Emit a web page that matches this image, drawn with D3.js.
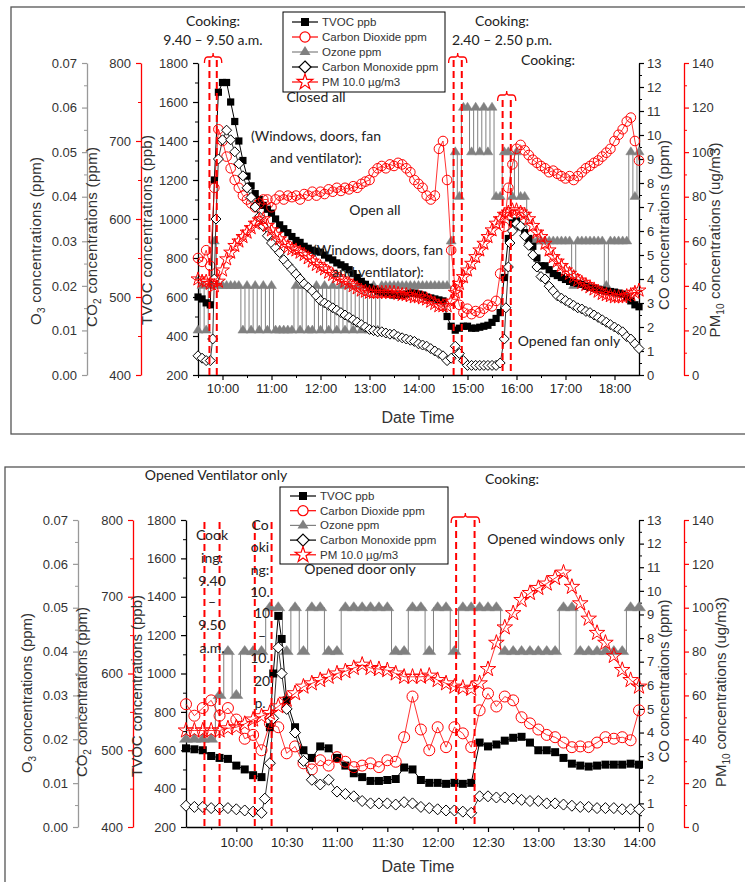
<!DOCTYPE html>
<html><head><meta charset="utf-8">
<script src="https://cdn.jsdelivr.net/npm/d3@7"></script>
<style>body{margin:0;background:#fff}svg{display:block}</style>
</head><body>
<svg id="c" width="745" height="882"></svg>
<script>
// ================= DATA =================
// Panel 1 (9:30 – 18:30, every 5 min)
const p1Start = "9:30", p1End = "18:30", p1Step = 5;
const tvoc1 = [
 600,590,570,560,1200,1650,1700,1700,1600,1500,1400,1300,
 1220,1170,1130,1100,1070,1050,1030,1000,970,950,930,910,
 890,880,860,850,840,835,830,815,800,790,775,765,
 755,740,720,700,680,665,650,640,630,625,620,615,
 610,610,610,615,620,620,615,610,600,595,590,585,
 580,500,450,430,440,450,450,440,440,445,450,455,
 470,490,520,700,900,980,990,960,930,900,860,800,
 760,760,740,720,710,700,690,680,675,670,665,655,
 650,645,640,635,630,628,625,620,615,600,580,560,
 550];
const co2_1 = [
 550,545,560,540,640,715,700,680,665,650,640,630,
 625,620,615,620,625,625,615,625,630,625,630,628,
 630,625,632,630,635,630,635,632,638,635,640,636,
 640,638,642,640,645,648,650,660,665,668,665,670,
 668,672,670,665,660,650,645,640,630,625,630,690,
 700,650,560,510,490,480,485,478,482,480,485,490,
 488,495,530,590,640,670,690,695,688,682,676,672,
 668,665,660,662,658,655,652,655,650,655,660,665,
 668,672,675,680,685,690,700,708,715,725,730,700,
 675];
const o3_1 = [
 .01,.02,.01,.02,.03,.02,.02,.02,.02,.02,.02,.01,
 .02,.01,.02,.01,.02,.01,.02,.01,.01,.01,.01,.01,
 .02,.01,.02,.01,.01,.02,.01,.02,.01,.02,.01,.02,
 .01,.02,.01,.02,.01,.02,.01,.02,.01,.02,.02,.02,
 .02,.02,.02,.02,.02,.02,.02,.02,.02,.02,.02,.02,
 .02,.02,.03,.05,.04,.06,.06,.05,.06,.05,.06,.05,
 .06,.04,.04,.05,.05,.04,.05,.04,.04,.03,.03,.03,
 .03,.03,.03,.03,.03,.03,.03,.03,.02,.03,.03,.03,
 .03,.03,.03,.03,.02,.03,.03,.03,.03,.03,.05,.04,
 .05];
const co1 = [
 0.8,0.7,0.6,0.6,4.0,9.0,9.8,10.2,9.8,9.3,8.8,8.3,
 7.8,7.4,7.0,6.6,6.2,5.8,5.5,5.3,5.1,4.8,4.6,4.4,
 4.2,4.0,3.8,3.65,3.5,3.3,3.1,3.0,2.9,2.8,2.7,2.6,
 2.5,2.4,2.3,2.2,2.1,2.0,1.9,1.85,1.8,1.8,1.75,1.7,
 1.7,1.6,1.55,1.5,1.45,1.4,1.3,1.25,1.2,1.1,1.0,0.9,
 0.8,0.6,0.7,1.2,0.9,0.6,0.4,0.4,0.4,0.4,0.4,0.4,
 0.4,0.4,0.5,1.5,4.5,6.0,6.3,6.2,5.8,5.4,5.0,4.5,
 4.1,4.0,3.7,3.5,3.3,3.2,3.1,3.0,2.9,2.8,2.75,2.65,
 2.6,2.5,2.4,2.3,2.2,2.1,2.0,1.9,1.8,1.6,1.5,1.3,
 1.1];
const co1Extra = [["9:48",1.5],["9:52",6.5],["15:47",2.8],["15:52",5.5]];
const pm1 = [
 43,42,42,41,40,42,47,52,55,58,60,62,
 64,66,68,69.5,70,67,65,63,61,59,57.5,56.5,
 56,55,54,52.5,51,49.5,48.5,47.5,46,45,44,43,
 42,41,40,39,38,37.5,37,37,37,37,37,37,
 37,36.5,36,36,35.5,35,35,34.5,34,33,32,31,
 31,31,33,37,41,44,47,50,53,56,59,62,
 65,68,70,72,73,74,74,73,72,70,67,64,
 62,59,56,53,51,49,47,45.5,44,42.5,41.5,40.5,
 39.5,38.5,37.5,36.5,36,35.5,35,35,35,35.5,36,37,
 38];
const xTicks1 = ["10:00","11:00","12:00","13:00","14:00","15:00","16:00","17:00","18:00"];
const cook1 = ["9:44","9:53","14:43","14:53","15:43","15:53"];

// Panel 2 (9:30 – 14:00, every 5 min)
const p2Start = "9:30", p2End = "14:00", p2Step = 5;
const tvoc2 = [
 610,605,600,570,560,555,
 520,500,470,460,720,1300,
 860,720,600,560,620,610,
 560,520,480,460,440,440,
 445,450,510,500,445,430,
 430,425,430,425,430,640,
 620,630,650,665,670,640,
 600,600,590,560,530,520,
 515,520,525,525,525,530,
 525];
const tvoc2Extra = [["10:22",1000],["10:27",1180]];
const co2_2 = [
 560,545,555,565,545,555,
 540,515,520,500,535,530,
 496,505,483,475,487,480,
 491,485,478,480,483,478,
 487,485,517,570,527,500,
 530,504,530,522,504,552,
 574,557,570,565,543,535,
 527,520,517,510,504,505,
 504,510,517,515,517,513,
 552];
const o3_2 = [
 .02,.02,.02,.02,.03,.04,
 .03,.04,.04,.04,.05,.05,
 .04,.05,.04,.05,.05,.04,
 .04,.05,.05,.05,.05,.05,
 .05,.04,.04,.05,.05,.04,
 .05,.05,.04,.05,.05,.05,
 .05,.05,.04,.04,.04,.04,
 .04,.04,.04,.05,.05,.04,
 .04,.04,.04,.04,.04,.05,
 .05];
const co_2 = [
 0.9,0.85,0.85,0.8,0.8,0.8,
 0.75,0.7,0.65,0.6,2.7,7.6,
 5.0,4.0,2.8,2.0,1.8,2.0,
 1.5,1.4,1.3,1.1,1.0,1.0,
 1.0,0.95,1.05,1.0,0.85,0.8,
 0.75,0.7,0.7,0.65,0.6,1.3,
 1.3,1.25,1.25,1.2,1.15,1.1,
 1.1,1.0,1.0,0.95,0.9,0.85,
 0.85,0.8,0.8,0.8,0.75,0.75,
 0.75];
const co2Extra = [["10:17",1.2],["10:22",4.6],["10:27",6.5]];
const pm2 = [
 44,44,44,44,44,45,
 45.5,47,49,50.5,52,55,
 58,61,64,65.5,67,68.5,
 70,71,72.5,74,72.5,72,
 71.5,70,68.5,68.5,68.5,69,
 67,65.5,64,63.5,63,65.5,
 72,84,91,97.5,103.5,106.7,
 109,111,113.5,116,109.5,102,
 95,88.5,84,78,71.6,67,
 64];
const xTicks2 = ["10:00","10:30","11:00","11:30","12:00","12:30","13:00","13:30","14:00"];
const cook2 = ["9:41","9:50","10:11","10:21","12:11","12:22"];

// axis ticks
const o3Ticks = [0,0.01,0.02,0.03,0.04,0.05,0.06,0.07];
const co2Ticks = [400,500,600,700,800];
const tvocTicks = [200,400,600,800,1000,1200,1400,1600,1800];
const coTicks = [0,1,2,3,4,5,6,7,8,9,10,11,12,13];
const pmTicks = [0,20,40,60,80,100,120,140];
const legendLabels = ["TVOC ppb","Carbon Dioxide ppm","Ozone ppm","Carbon Monoxide ppm","PM 10.0 \u00b5g/m3"];

// ================= DRAW =================
const svg = d3.select("#c");
const AX = "'Liberation Sans', Arial, sans-serif";
const AN = "Lato, 'Open Sans', sans-serif";
const RED = "#ff0000", GRAY = "#808080", TXT = "#333";

function mins(s){const [h,m]=s.split(":").map(Number);return h*60+m;}
function series(start, step, vals, extra){
  const t0 = mins(start);
  const pts = vals.map((v,i)=>({t:t0+step*i, v}));
  (extra||[]).forEach(([t,v])=>pts.push({t:mins(t), v}));
  pts.sort((a,b)=>a.t-b.t);
  return pts;
}
function mid(a){return a.map((v,i)=>i<a.length-1?(v+a[i+1])/2:null).filter(v=>v!==null);}

svg.append("rect").attr("x",11).attr("y",7).attr("width",760).attr("height",427)
  .attr("fill","none").attr("stroke","#555").attr("stroke-width",1.3);
svg.append("rect").attr("x",5).attr("y",467).attr("width",770).attr("height",440)
  .attr("fill","none").attr("stroke","#555").attr("stroke-width",1.3);

const diamondPath = s => `M0,${-s}L${s},0L0,${s}L${-s},0Z`;
const triPath = (w,h) => `M${-w/2},${h/3}L${w/2},${h/3}L0,${-2*h/3}Z`;

function styleAxis(a, color, fs){
  a.select(".domain").attr("stroke", color).attr("stroke-width",1.3);
  a.selectAll(".tick line").attr("stroke", color).attr("stroke-width",1.2);
  a.selectAll("text").attr("fill", TXT).attr("font-family", AX).attr("font-size", fs||13);
}

function rotTitle(g, x, y, parts, len){
  const t = g.append("text").attr("transform",`translate(${x},${y}) rotate(-90)`)
    .attr("text-anchor","middle").attr("font-family",AX).attr("font-size",15).attr("fill",TXT);
  parts.forEach(p=>{
    const s = t.append("tspan").text(p[0]);
    if(p[1]==="sub") s.attr("font-size",10).attr("dy",4);
    if(p[1]==="up") s.attr("dy",-4);
  });
  if(len) t.attr("textLength",len).attr("lengthAdjust","spacing");
}

function drawPanel(c){
  const g = svg.append("g");
  const x = d3.scaleLinear().domain([mins(c.start), mins(c.end)]).range([c.x0, c.x1]);
  const yT = d3.scaleLinear().domain([200,1800]).range([c.yb,c.yt]);
  const yC2 = d3.scaleLinear().domain([400,800]).range([c.yb,c.yt]);
  const yO = d3.scaleLinear().domain([0,0.07]).range([c.yb,c.yt]);
  const yCO = d3.scaleLinear().domain([0,13]).range([c.yb,c.yt]);
  const yPM = d3.scaleLinear().domain([0,140]).range([c.yb,c.yt]);

  const leftAx = (scale, ax, ticks, color, fmt) => {
    const a = g.append("g").attr("transform",`translate(${ax},0)`)
      .call(d3.axisLeft(scale).tickValues(ticks).tickSize(5).tickSizeOuter(0).tickPadding(5).tickFormat(fmt));
    styleAxis(a, color);
    const m = g.append("g").attr("transform",`translate(${ax},0)`)
      .call(d3.axisLeft(scale).tickValues(mid(ticks)).tickSize(3).tickFormat(""));
    m.select(".domain").remove(); m.selectAll("line").attr("stroke",color);
  };
  const rightAx = (scale, ax, ticks, color) => {
    const a = g.append("g").attr("transform",`translate(${ax},0)`)
      .call(d3.axisRight(scale).tickValues(ticks).tickSize(5).tickSizeOuter(0).tickPadding(3));
    styleAxis(a, color);
    const m = g.append("g").attr("transform",`translate(${ax},0)`)
      .call(d3.axisRight(scale).tickValues(mid(ticks)).tickSize(3).tickFormat(""));
    m.select(".domain").remove(); m.selectAll("line").attr("stroke",color);
  };
  leftAx(yO, c.o3X, o3Ticks, "#999", d3.format(".2f"));
  leftAx(yC2, c.co2X, co2Ticks, RED, d3.format("d"));
  leftAx(yT, c.x0, tvocTicks, "#000", d3.format("d"));
  rightAx(yCO, c.x1, coTicks, "#000");
  rightAx(yPM, c.pmX, pmTicks, RED);

  const xt = c.xTicks.map(mins);
  const xa = g.append("g").attr("transform",`translate(0,${c.yb})`)
    .call(d3.axisBottom(x).tickValues(xt).tickSize(5).tickSizeOuter(0).tickPadding(c.xPad)
      .tickFormat(v=>{const h=Math.floor(v/60),m=v%60;return h+":"+(m<10?"0":"")+m;}));
  styleAxis(xa, "#000");
  xa.selectAll("text").attr("fill","#222");
  const xm = g.append("g").attr("transform",`translate(0,${c.yb})`)
    .call(d3.axisBottom(x).tickValues(c.xMinor.map(mins)).tickSize(3).tickFormat(""));
  xm.select(".domain").remove(); xm.selectAll("line").attr("stroke","#000");
  g.append("text").attr("x",418).attr("y",c.yb+c.dtDy).attr("text-anchor","middle")
    .attr("font-family",AX).attr("font-size",16).attr("fill",TXT).text("Date Time");

  rotTitle(g, c.tO[0], c.tO[1], [["O"],["3","sub"],[" concentrations (ppm)","up"]], c.tO[2]);
  rotTitle(g, c.tC2[0], c.tC2[1], [["CO"],["2","sub"],[" concentrations (ppm)","up"]], c.tC2[2]);
  rotTitle(g, c.tT[0], c.tT[1], [["TVOC concentrations (ppb)"]], c.tT[2]);
  rotTitle(g, c.tCO[0], c.tCO[1], [["CO concentrations (ppm)"]], c.tCO[2]);
  rotTitle(g, c.tPM[0], c.tPM[1], [["PM"],["10","sub"],[" concentrations (ug/m3)","up"]], c.tPM[2]);

  const line = (sc) => d3.line().x(d=>x(d.t)).y(d=>sc(d.v));
  const o3 = series(c.start, c.step, c.o3);
  g.append("path").datum(o3).attr("d", line(yO).curve(d3.curveStep)).attr("fill","none")
    .attr("stroke",GRAY).attr("stroke-width",1);
  g.append("g").selectAll("path").data(o3).join("path")
    .attr("transform",d=>`translate(${x(d.t)},${yO(d.v)})`).attr("d",triPath(c.triW,c.triH))
    .attr("fill",GRAY).attr("stroke",GRAY).attr("stroke-width",0.5);

  const tv = series(c.start, c.step, c.tvoc, c.tvocExtra);
  g.append("path").datum(tv).attr("d", line(yT)).attr("fill","none").attr("stroke","#000").attr("stroke-width",1);
  g.append("g").selectAll("path").data(tv).join("path")
    .attr("transform",d=>`translate(${x(d.t)},${yT(d.v)})`).attr("d",d3.symbol(d3.symbolSquare,c.sq)())
    .attr("fill","#000");

  const cd = series(c.start, c.step, c.co2);
  g.append("path").datum(cd).attr("d", line(yC2)).attr("fill","none").attr("stroke",RED).attr("stroke-width",0.8);
  g.append("g").selectAll("circle").data(cd).join("circle")
    .attr("cx",d=>x(d.t)).attr("cy",d=>yC2(d.v)).attr("r",c.cr)
    .attr("fill","none").attr("stroke",RED).attr("stroke-width",1);

  const co = series(c.start, c.step, c.co, c.coExtra);
  g.append("path").datum(co).attr("d", line(yCO)).attr("fill","none").attr("stroke","#000").attr("stroke-width",0.8);
  g.append("g").selectAll("path").data(co).join("path")
    .attr("transform",d=>`translate(${x(d.t)},${yCO(d.v)})`).attr("d",diamondPath(c.dm))
    .attr("fill","#fff").attr("stroke","#000").attr("stroke-width",1);

  const pm = series(c.start, c.step, c.pm);
  g.append("path").datum(pm).attr("d", line(yPM)).attr("fill","none").attr("stroke",RED).attr("stroke-width",0.8);
  g.append("g").selectAll("path").data(pm).join("path")
    .attr("transform",d=>`translate(${x(d.t)},${yPM(d.v)})`).attr("d",d3.symbol(d3.symbolStar,c.st)())
    .attr("fill","none").attr("stroke",RED).attr("stroke-width",1);

  c.cook.forEach((t,i)=>{
    g.append("line").attr("x1",x(mins(t))).attr("x2",x(mins(t)))
      .attr("y1",c.dashTop[Math.floor(i/2)]).attr("y2",c.yb)
      .attr("stroke",RED).attr("stroke-width",2).attr("stroke-dasharray","7,4");
  });
  c.braces.forEach(([i,by])=>{
    const a = x(mins(c.cook[i]))-5, b = x(mins(c.cook[i+1]))+5, m=(a+b)/2;
    g.append("path").attr("d",`M${a},${by+6}Q${a},${by} ${a+3},${by}L${m-2},${by}Q${m},${by} ${m},${by-4}Q${m},${by} ${m+2},${by}L${b-3},${by}Q${b},${by} ${b},${by+6}`)
      .attr("fill","none").attr("stroke",RED).attr("stroke-width",1.3);
  });

  c.notes.forEach(n=>{
    g.append("text").attr("x",n[1]).attr("y",n[2]).attr("text-anchor",n[3]||"middle")
      .attr("font-family",AN).attr("font-size",n[4]||14).attr("fill","#222").text(n[0]);
  });

  const L = c.legend;
  g.append("rect").attr("x",L.x).attr("y",L.y).attr("width",L.w).attr("height",L.h)
    .attr("fill","#fff").attr("stroke","#000").attr("stroke-width",1);
  const cols = ["#000",RED,GRAY,"#000",RED];
  legendLabels.forEach((lab,i)=>{
    const yy = L.r0 + i*L.dr, mx = L.mx;
    g.append("line").attr("x1",mx-13).attr("x2",mx+13).attr("y1",yy).attr("y2",yy).attr("stroke",cols[i]).attr("stroke-width",1.2);
    const s = g.append("path").attr("transform",`translate(${mx},${yy})`);
    if(i===0) s.attr("d",d3.symbol(d3.symbolSquare,64)()).attr("fill","#000");
    if(i===1) s.attr("d",d3.symbol(d3.symbolCircle,80)()).attr("fill","#fff").attr("stroke",RED).attr("stroke-width",1.2);
    if(i===2) s.attr("d",triPath(11,9)).attr("fill",GRAY);
    if(i===3) s.attr("d",diamondPath(6)).attr("fill","#fff").attr("stroke","#000").attr("stroke-width",1.2);
    if(i===4) s.attr("d",d3.symbol(d3.symbolStar,75)()).attr("fill","#fff").attr("stroke",RED).attr("stroke-width",1.2);
    g.append("text").attr("x",mx+17).attr("y",yy+4).attr("font-family",AX).attr("font-size",11.5)
      .attr("fill",TXT).text(lab);
  });
}

drawPanel({
  start:p1Start, end:p1End, step:p1Step,
  x0:198, x1:639, yt:63, yb:375, o3X:87, co2X:141, pmX:684,
  xTicks:xTicks1, xMinor:["9:30","10:30","11:30","12:30","13:30","14:30","15:30","16:30","17:30"], xPad:4, dtDy:48,
  tO:[41,241,168], tC2:[97,237,180], tT:[152,230,190], tCO:[669,225,170], tPM:[720,240,195],
  tvoc:tvoc1, co2:co2_1, o3:o3_1, co:co1, coExtra:co1Extra, pm:pm1,
  sq:52, cr:4.8, dm:5, st:60, triW:10, triH:8,
  cook:cook1, dashTop:[60,60,100], braces:[[0,57],[2,57],[4,95]],
  notes:[["Cooking:",213,26],["9.40 \u2013 9.50 a.m.",213,45],
         ["Cooking:",502,26],["2.40 \u2013 2.50 p.m.",502,45],["Cooking:",548,65],
         ["Closed all",316,102],["(Windows,  doors, fan",316,141],["and ventilator):",316,163],
         ["Open all",375,215],["(Windows, doors, fan",378,255],["and ventilator):",378,277],
         ["Opened fan only",569,346]],
  legend:{x:283,y:12,w:162,h:80,r0:22,dr:15,mx:305}
});

drawPanel({
  start:p2Start, end:p2End, step:p2Step,
  x0:186, x1:639, yt:520, yb:827, o3X:78, co2X:133, pmX:684,
  xTicks:xTicks2, xMinor:["9:45","10:15","10:45","11:15","11:45","12:15","12:45","13:15","13:45"], xPad:6, dtDy:45,
  tO:[32,693,160], tC2:[87,692,170], tT:[142,686,182], tCO:[669,681,163], tPM:[726,692,190],
  tvoc:tvoc2, tvocExtra:tvoc2Extra, co2:co2_2, o3:o3_2, co:co_2, coExtra:co2Extra, pm:pm2,
  sq:64, cr:5.5, dm:5.5, st:75, triW:13, triH:9,
  cook:cook2, dashTop:[522,522,520], braces:[[4,517]],
  notes:[["Opened Ventilator only",216,480],["Cooking:",512,484],
         ["Opened windows only",556,544],["Opened door only",360,574],
         ["Cook",212,540],["ing:",212,563],["9.40",212,586],["\u2013",212,607],["9.50",212,630],["a.m.",212,653],
         ["Co",260,530],["oki",260,552],["ng:",260,575],["10.",260,597],["10",262,618],["\u2013",262,641],["10.",260,663],["20",262,686],["p.",260,708]],
  legend:{x:280,y:487,w:168,h:77,r0:496,dr:14.7,mx:303}
});
</script>
</body></html>
